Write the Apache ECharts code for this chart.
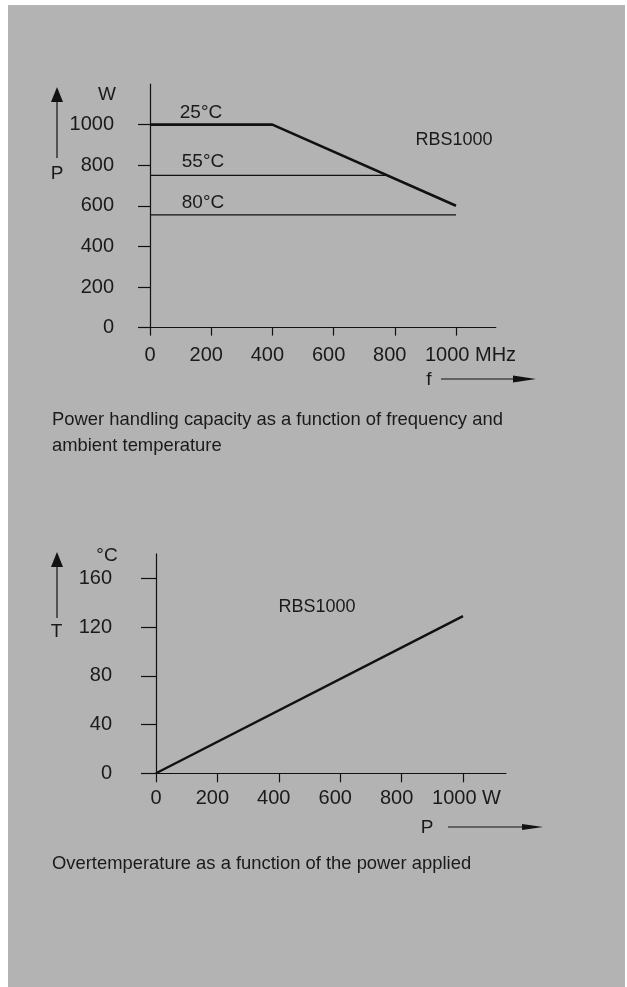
<!DOCTYPE html>
<html>
<head>
<meta charset="utf-8">
<script src="https://cdn.jsdelivr.net/npm/echarts@6/dist/echarts.min.js"></script>
<style>
  html, body { margin: 0; padding: 0; background: #ffffff; }
  #bg { position: absolute; left: 8px; top: 5px; width: 617px; height: 982px; background: #b3b3b3; }
  #chart { position: absolute; left: 0; top: 0; width: 627px; height: 987px; }
</style>
</head>
<body>
<div id="bg"></div>
<div id="chart"></div>
<script>
// ---- Data ----
const freqTicks = [0, 200, 400, 600, 800, 1000];      // MHz
const powerTicks = [0, 200, 400, 600, 800, 1000];     // W
const tempTicks = [0, 40, 80, 120, 160];              // °C

const curve25Freq = [0, 400, 1000];
const curve25Power = [1000, 1000, 600];
const curve55Freq = [0, 775];
const curve55Power = [750, 750];
const curve80Freq = [0, 1000];
const curve80Power = [555, 555];

const rbsPower = [0, 1000];
const rbsTemp = [0, 129];

const tempLabels = ['25°C', '55°C', '80°C'];
const modelName = 'RBS1000';
const caption1 = ['Power handling capacity as a function of frequency and', 'ambient temperature'];
const caption2 = 'Overtemperature as a function of the power applied';

// ---- Styling ----
const FONT = 'Liberation Sans';
const TXT = '#1a1a1a';
const INK = '#111111';

function pairs(xs, ys) { return xs.map((x, i) => [x, ys[i]]); }

function xLabelFormatter(unit) {
  return function (v) {
    if (v === 0) return '{z|0}';
    if (v === 1000) return '{u|1000 ' + unit + '}';
    return '{a|' + v + '}';
  };
}
function xRich(uPad) {
  const base = { fontFamily: FONT, fontSize: 20, color: TXT };
  return {
    z: Object.assign({}, base),
    a: Object.assign({ padding: [0, 10, 0, 0] }, base),
    u: Object.assign({ padding: [0, 0, 0, uPad] }, base)
  };
}
function plainLabel(v) { return String(v); }

const chart = echarts.init(document.getElementById('chart'), null, { renderer: 'canvas' });

function text(str, x, y, size, align) {
  return {
    type: 'text', x: x, y: y, silent: true,
    style: { text: str, fontFamily: FONT, fontSize: size, fill: TXT, align: align || 'center', verticalAlign: 'middle' }
  };
}
function vArrow(x, yTip, yHeadBase, yBottom, halfW) {
  return [
    { type: 'line', silent: true, shape: { x1: x, y1: yHeadBase, x2: x, y2: yBottom }, style: { stroke: INK, lineWidth: 1.2 } },
    { type: 'polygon', silent: true, shape: { points: [[x, yTip], [x - halfW, yHeadBase], [x + halfW, yHeadBase]] }, style: { fill: INK } }
  ];
}
function hArrow(y, xLeft, xHeadBase, xTip, halfH) {
  return [
    { type: 'line', silent: true, shape: { x1: xLeft, y1: y, x2: xHeadBase, y2: y }, style: { stroke: INK, lineWidth: 1.2 } },
    { type: 'polygon', silent: true, shape: { points: [[xTip, y], [xHeadBase, y - halfH], [xHeadBase, y + halfH]] }, style: { fill: INK } }
  ];
}

const axisLineStyle = { show: true, onZero: false, lineStyle: { color: INK, width: 1.2 } };

const option = {
  animation: false,
  backgroundColor: 'transparent',
  grid: [
    { left: 150, top: 84, width: 1130 * 0.306, height: 1200 * 0.203, containLabel: false },
    { left: 156, top: 773.3 - 180 * 1.21875, width: 1140 * 0.307, height: 180 * 1.21875, containLabel: false }
  ],
  xAxis: [
    {
      type: 'value', gridIndex: 0, min: 0, max: 1130,
      axisLine: axisLineStyle,
      axisTick: { show: true, length: 8, customValues: freqTicks, lineStyle: { color: INK, width: 1.2 } },
      axisLabel: { show: true, customValues: freqTicks, margin: 18, formatter: xLabelFormatter('MHz'), rich: xRich(29), fontFamily: FONT, fontSize: 20, color: TXT },
      splitLine: { show: false }
    },
    {
      type: 'value', gridIndex: 1, min: 0, max: 1140,
      axisLine: axisLineStyle,
      axisTick: { show: true, length: 9, customValues: freqTicks, lineStyle: { color: INK, width: 1.2 } },
      axisLabel: { show: true, customValues: freqTicks, margin: 15, formatter: xLabelFormatter('W'), rich: xRich(7), fontFamily: FONT, fontSize: 20, color: TXT },
      splitLine: { show: false }
    }
  ],
  yAxis: [
    {
      type: 'value', gridIndex: 0, min: 0, max: 1200,
      axisLine: axisLineStyle,
      axisTick: { show: true, length: 12, customValues: powerTicks, lineStyle: { color: INK, width: 1.2 } },
      axisLabel: { show: true, customValues: powerTicks, margin: 36, formatter: plainLabel, fontFamily: FONT, fontSize: 20, color: TXT },
      splitLine: { show: false }
    },
    {
      type: 'value', gridIndex: 1, min: 0, max: 180,
      axisLine: axisLineStyle,
      axisTick: { show: true, length: 15, customValues: tempTicks, lineStyle: { color: INK, width: 1.2 } },
      axisLabel: { show: true, customValues: tempTicks, margin: 44, formatter: plainLabel, fontFamily: FONT, fontSize: 20, color: TXT },
      splitLine: { show: false }
    }
  ],
  series: [
    {
      name: tempLabels[0], type: 'line', xAxisIndex: 0, yAxisIndex: 0,
      data: pairs(curve25Freq, curve25Power), showSymbol: false, symbol: 'none',
      lineStyle: { color: INK, width: 2.6 }
    },
    {
      name: tempLabels[1], type: 'line', xAxisIndex: 0, yAxisIndex: 0,
      data: pairs(curve55Freq, curve55Power), showSymbol: false, symbol: 'none',
      lineStyle: { color: INK, width: 1.3 }
    },
    {
      name: tempLabels[2], type: 'line', xAxisIndex: 0, yAxisIndex: 0,
      data: pairs(curve80Freq, curve80Power), showSymbol: false, symbol: 'none',
      lineStyle: { color: INK, width: 1.3 }
    },
    {
      name: modelName, type: 'line', xAxisIndex: 1, yAxisIndex: 1,
      data: pairs(rbsPower, rbsTemp), showSymbol: false, symbol: 'none',
      lineStyle: { color: INK, width: 2.4 }
    }
  ],
  graphic: [].concat(
    // Chart 1 annotations
    [
      text('W', 107, 94.5, 19),
      text('P', 57, 174, 19),
      text(tempLabels[0], 201, 112.5, 19),
      text(tempLabels[1], 203, 161.7, 19),
      text(tempLabels[2], 203, 203, 19),
      text(modelName, 454, 140, 18),
      text('f', 429, 380, 19)
    ],
    vArrow(57, 87, 102, 158, 6),
    hArrow(379, 441, 513, 536, 3.5),
    [
      text(caption1[0], 52, 420, 18.4, 'left'),
      text(caption1[1], 52, 446, 18.4, 'left')
    ],
    // Chart 2 annotations
    [
      text('°C', 107, 556, 19),
      text('T', 56.5, 632, 19),
      text(modelName, 317, 607, 18),
      text('P', 427, 828, 19)
    ],
    vArrow(57, 552, 567, 618, 6),
    hArrow(827, 448, 522, 543, 3),
    [ text(caption2, 52, 863.5, 18.4, 'left') ]
  )
};

chart.setOption(option);
</script>
</body>
</html>
